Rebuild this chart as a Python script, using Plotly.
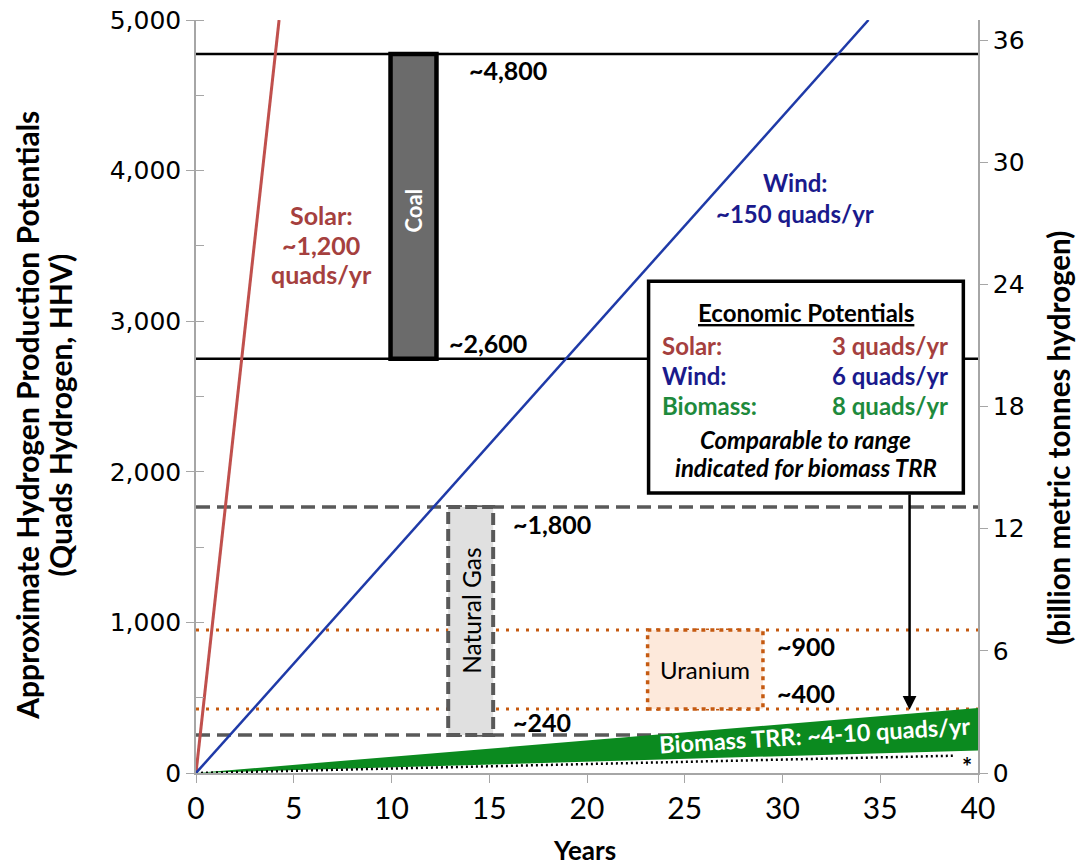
import plotly.graph_objects as go

# ---- data ----
solar_x = [0, 4.25]
solar_y = [0, 5000]
wind_x = [0, 34.4]
wind_y = [0, 5000]
bio_x = [0, 40]
bio_low = [0, 150]
bio_high = [0, 432]
star_x = [0, 38.8]
star_y = [0, 115]

coal_range = [2750, 4775]
gas_range = [252, 1766]
uranium_range = [425, 950]
coal_bar_x = [9.95, 12.3]
gas_bar_x = [12.9, 15.2]
uranium_box_x = [23.1, 29.0]

x_ticks = [0, 5, 10, 15, 20, 25, 30, 35, 40]
y_ticks = [0, 1000, 2000, 3000, 4000, 5000]
y_tick_text = ["0", "1,000", "2,000", "3,000", "4,000", "5,000"]
y2_ticks = [0, 6, 12, 18, 24, 30, 36]
quad_to_gt = 0.007397

BODY = "Lato, Liberation Sans, sans-serif"
TICK = "DejaVu Sans, Verdana, sans-serif"
SOLAR_C = "#c0504d"
SOLAR_T = "#a5403e"
WIND_C = "#1f3aa8"
WIND_T = "#1a1a8c"
GREEN = "#0b8a1f"
GREEN_T = "#1e8a3c"
GRAY = "#595959"
ORANGE = "#c55a11"
AX = "#a6a6a6"

fig = go.Figure()

fig.add_trace(go.Scatter(x=bio_x, y=bio_low, mode="lines", line=dict(color=GREEN, width=0),
                         showlegend=False, hoverinfo="skip"))
fig.add_trace(go.Scatter(x=bio_x, y=bio_high, mode="lines", line=dict(color=GREEN, width=0),
                         fill="tonexty", fillcolor=GREEN, showlegend=False, hoverinfo="skip"))
fig.add_trace(go.Scatter(x=star_x, y=star_y, mode="lines", line=dict(color="black", width=2.5, dash="2px,3px"),
                         showlegend=False))
fig.add_trace(go.Scatter(x=solar_x, y=solar_y, mode="lines", line=dict(color=SOLAR_C, width=3),
                         showlegend=False))
fig.add_trace(go.Scatter(x=wind_x, y=wind_y, mode="lines", line=dict(color=WIND_C, width=2.5),
                         showlegend=False))
fig.add_trace(go.Scatter(x=[0], y=[0], yaxis="y2", mode="markers", marker=dict(opacity=0),
                         showlegend=False, hoverinfo="skip"))

shapes = []
for v in coal_range:
    shapes.append(dict(type="line", xref="x", yref="y", x0=0, x1=40, y0=v, y1=v,
                       line=dict(color="black", width=2.5), layer="below"))
for v in gas_range:
    shapes.append(dict(type="line", xref="x", yref="y", x0=0, x1=40, y0=v, y1=v,
                       line=dict(color=GRAY, width=3.5, dash="14px,7px"), layer="below"))
for v in uranium_range:
    shapes.append(dict(type="line", xref="x", yref="y", x0=0, x1=40, y0=v, y1=v,
                       line=dict(color=ORANGE, width=3, dash="3px,7px"), layer="below"))
shapes.append(dict(type="rect", xref="x", yref="y", x0=coal_bar_x[0], x1=coal_bar_x[1],
                   y0=coal_range[0], y1=coal_range[1], fillcolor="#6b6b6b",
                   line=dict(color="black", width=4.5)))
shapes.append(dict(type="rect", xref="x", yref="y", x0=gas_bar_x[0], x1=gas_bar_x[1],
                   y0=gas_range[0], y1=gas_range[1], fillcolor="#e0e0e0",
                   line=dict(color=GRAY, width=4, dash="12px,5px")))
shapes.append(dict(type="rect", xref="x", yref="y", x0=uranium_box_x[0], x1=uranium_box_x[1],
                   y0=uranium_range[0], y1=uranium_range[1], fillcolor="#fde9db",
                   line=dict(color=ORANGE, width=3.5, dash="4px,5px")))
shapes.append(dict(type="rect", xref="x", yref="y", x0=23.15, x1=39.25, y0=1860, y1=3265,
                   fillcolor="white", line=dict(color="black", width=3.5)))

annotations = []


def txt(x, y, text, color="black", size=25, xanchor="left", angle=0, bold=True, italic=False,
        ref="data"):
    t = text
    if bold:
        t = "<b>" + t + "</b>"
    if italic:
        t = "<i>" + t + "</i>"
    xr, yr = ("x", "y") if ref == "data" else ("paper", "paper")
    annotations.append(dict(x=x, y=y, xref=xr, yref=yr, text=t, showarrow=False,
                            font=dict(family=BODY, size=size, color=color),
                            xanchor=xanchor, yanchor="middle", textangle=angle))


txt(13.85, 4668, "~4,800")
txt(12.85, 2855, "~2,600")
txt(16.1, 1653, "~1,800")
txt(16.1, 339, "~240")
txt(29.6, 843, "~900")
txt(29.6, 531, "~400")
txt(6.4, 3705, "Solar:", color=SOLAR_T, xanchor="center")
txt(6.4, 3506, "~1,200", color=SOLAR_T, xanchor="center")
txt(6.4, 3313, "quads/yr", color=SOLAR_T, xanchor="center")
txt(30.64, 3918, "Wind:", color=WIND_T, xanchor="center", size=24)
txt(30.64, 3718, "~150 quads/yr", color=WIND_T, xanchor="center", size=24)
txt(11.12, 3738, "Coal", color="white", xanchor="center", angle=-90, size=22)
txt(14.05, 1075, "Natural Gas", color="black", xanchor="center", angle=-90, size=24.5, bold=False)
txt(26.05, 685, "Uranium", color="black", xanchor="center", size=24, bold=False)
txt(31.65, 252, "Biomass TRR: ~4-10 quads/yr", color="white", xanchor="center", angle=-3.5, size=23.5)
txt(39.45, 45, "*", color="black", xanchor="center", size=24)

# box contents
txt(31.2, 3055, "<u>Economic Potentials</u>", xanchor="center", size=24)
rows = [("Solar:", "3 quads/yr", SOLAR_T, 2840),
        ("Wind:", "6 quads/yr", WIND_T, 2640),
        ("Biomass:", "8 quads/yr", GREEN_T, 2440)]
for lab, val, col, yy in rows:
    txt(23.75, yy, lab, color=col, size=24)
    txt(38.55, yy, val, color=col, xanchor="right", size=24)
txt(31.2, 2215, "Comparable to range", italic=True, xanchor="center", size=24)
txt(31.2, 2030, "indicated for biomass TRR", italic=True, xanchor="center", size=24)

# axis titles
txt(-0.2165, 0.4754, "Approximate Hydrogen Production Potentials", angle=-90, size=30,
    xanchor="center", ref="paper")
txt(-0.1745, 0.4754, "(Quads Hydrogen, HHV)", angle=-90, size=30, xanchor="center", ref="paper")
txt(1.1035, 0.4450, "(billion metric tonnes hydrogen)", angle=-90, size=29.5, xanchor="center", ref="paper")
txt(0.497, -0.102, "Years", size=26, xanchor="center", ref="paper")

annotations.append(dict(x=36.5, y=420, ax=36.5, ay=1860, xref="x", yref="y", axref="x", ayref="y",
                        text="", showarrow=True, arrowhead=2, arrowsize=1.1, arrowwidth=2.5,
                        arrowcolor="black"))

fig.update_layout(
    width=1082, height=867,
    margin=dict(l=196, r=104, t=20, b=94),
    plot_bgcolor="white", paper_bgcolor="white",
    shapes=shapes, annotations=annotations,
    xaxis=dict(range=[0, 40], tickvals=x_ticks, showgrid=False, zeroline=False, automargin=False,
               showline=True, linecolor=AX, linewidth=1.5,
               ticks="outside", ticklen=8, tickcolor=AX, ticklabeloverflow="allow",
               tickfont=dict(family=BODY, size=30, color="black")),
    yaxis=dict(range=[0, 5000], tickvals=y_ticks, ticktext=y_tick_text, showgrid=False, zeroline=False,
               automargin=False, showline=True, linecolor=AX, linewidth=1.5,
               ticks="outside", ticklen=8, tickcolor=AX, ticklabeloverflow="allow",
               minor=dict(dtick=500, ticks="inside", ticklen=8, tickcolor=AX),
               tickfont=dict(family=TICK, size=25, color="black")),
    yaxis2=dict(range=[0, 5000 * quad_to_gt], tickvals=y2_ticks, overlaying="y", side="right",
                showgrid=False, zeroline=False, automargin=False, showline=True, linecolor=AX, linewidth=1.5,
                ticks="outside", ticklen=8, tickcolor=AX, ticklabeloverflow="allow",
                tickfont=dict(family=TICK, size=25, color="black")),
)

fig.write_html("out.html", post_script="document.body.style.margin='0';",
               config={"displayModeBar": False})
